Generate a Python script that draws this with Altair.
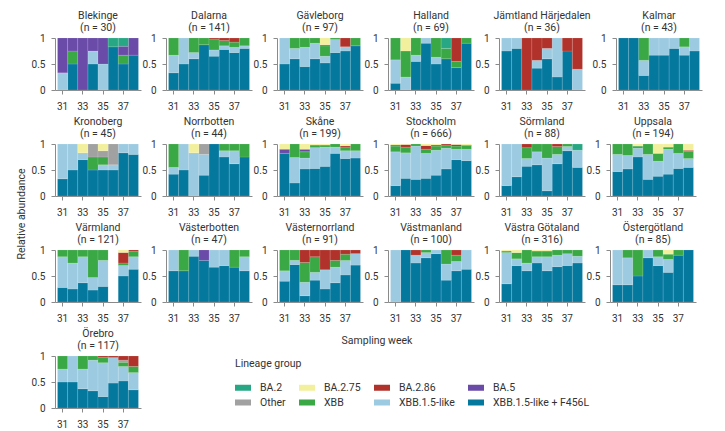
import altair as alt
import pandas as pd

WEEKS = [31, 32, 33, 34, 35, 36, 37, 38]
TICK_WEEKS = [31, 33, 35, 37]
LINEAGES = ["BA.2", "BA.2.75", "BA.2.86", "BA.5", "Other", "XBB",
            "XBB.1.5-like", "XBB.1.5-like + F456L"]
COLORS = ["#27a783", "#f3f09d", "#b1322a", "#6a4ba7", "#a1a1a1", "#3aa845",
          "#9ccbe1", "#05789e"]
KEY = {"T": "BA.2", "Y": "BA.2.75", "R": "BA.2.86", "P": "BA.5", "O": "Other",
       "G": "XBB", "L": "XBB.1.5-like", "D": "XBB.1.5-like + F456L"}

REGIONS = ["Blekinge", "Dalarna", "Gävleborg", "Halland", "Jämtland Härjedalen", "Kalmar",
           "Kronoberg", "Norrbotten", "Skåne", "Stockholm", "Sörmland", "Uppsala",
           "Värmland", "Västerbotten", "Västernorrland", "Västmanland", "Västra Götaland",
           "Östergötland", "Örebro"]
N_SEQ = [30, 141, 97, 69, 36, 43, 45, 44, 199, 666, 88, 194, 121, 47, 91, 100, 316, 85, 117]

# weekly shares (weeks 31..38) per lineage group
blekinge = {"D": [0, .5, 0, .5, 0, .83, .5, .67], "L": [.33, 0, 0, .25, .5, 0, 0, 0],
            "G": [0, .25, 0, 0, 0, 0, .17, 0], "P": [.67, .25, 1, .25, .5, 0, .17, .33],
            "T": [0, 0, 0, 0, 0, .17, .16, 0]}
dalarna = {"D": [.33, .5, .6, .87, .65, .78, .72, .8], "L": [.34, .5, .12, 0, .12, .07, .1, .05],
           "G": [.33, 0, .28, .13, .21, .1, .1, .15], "R": [0, 0, 0, 0, .02, .05, .08, 0]}
gavleborg = {"D": [.5, .6, .45, .6, .52, .72, .75, .85], "L": [.5, .2, .37, .3, .13, .25, .08, 0],
             "G": [0, .2, .18, .1, .2, .03, 0, .15], "R": [0, 0, 0, 0, .02, 0, .17, 0],
             "Y": [0, 0, 0, 0, .13, 0, 0, 0]}
halland = {"D": [.13, 0, .55, .9, .5, .6, .43, .9], "L": [.45, .25, .12, .1, .13, 0, 0, 0],
           "G": [.42, .5, .33, 0, .37, .2, .12, .1], "Y": [0, .25, 0, 0, 0, 0, 0, 0],
           "T": [0, 0, 0, 0, 0, .2, 0, 0], "R": [0, 0, 0, 0, 0, 0, .45, 0]}
jamtland = {"D": [.75, .8, 0, .42, .6, .25, .75, 0], "L": [.25, .2, 0, .15, .2, .75, 0, .4],
            "R": [0, 0, 1, .43, .2, 0, .25, .6]}
kalmar = {"D": [1, 1, .28, .67, .67, .8, .67, .75], "L": [0, 0, .29, .33, .33, .2, .16, .25],
          "G": [0, 0, .43, 0, 0, 0, .17, 0]}
kronoberg = {"D": [.33, .5, .7, .5, .5, .5, .83, .8], "L": [.67, .5, .13, 0, .1, .1, .17, .2],
             "G": [0, 0, 0, .25, .15, 0, 0, 0], "O": [0, 0, 0, .25, .12, .4, 0, 0],
             "Y": [0, 0, .17, 0, .13, 0, 0, 0]}
norrbotten = {"D": [.42, .5, 0, .4, 1, .75, .62, .75], "L": [.13, .5, .83, .4, 0, .12, .25, 0],
              "G": [.45, 0, 0, 0, 0, .13, .13, .25], "O": [0, 0, 0, .2, 0, 0, 0, 0],
              "Y": [0, 0, .17, 0, 0, 0, 0, 0]}
skane = {"D": [.82, .25, .52, .53, .57, .82, .72, .73], "L": [0, .49, .21, .4, .37, .12, .15, .14],
         "G": [0, .26, .12, .05, .04, .06, .07, .13], "P": [.08, 0, .05, 0, 0, 0, 0, 0],
         "Y": [.1, 0, .1, .02, .02, 0, .04, 0], "R": [0, 0, 0, 0, 0, 0, .02, 0]}
stockholm = {"D": [.2, .34, .32, .34, .4, .52, .7, .68], "L": [.65, .49, .64, .48, .48, .4, .2, .22],
             "G": [.11, .11, .04, .08, .08, .06, .06, .07], "P": [.02, 0, 0, 0, 0, 0, 0, 0],
             "R": [0, .05, 0, .07, .02, .02, .03, .01], "Y": [.02, .01, 0, .03, .02, 0, .01, .02]}
sormland = {"D": [.2, .37, .57, .6, .1, .62, .87, .55], "L": [.8, .63, .15, .25, .63, .18, .08, .33],
            "G": [0, 0, .21, .15, .27, .15, .05, 0], "R": [0, 0, .07, 0, 0, .05, 0, 0],
            "T": [0, 0, 0, 0, 0, 0, 0, .12]}
uppsala = {"D": [.47, .52, .75, .32, .38, .42, .53, .55], "L": [.33, .26, .17, .48, .29, .48, .29, .17],
           "G": [.2, .22, .04, .2, .15, .04, .18, .14], "R": [0, 0, 0, 0, 0, 0, 0, .02],
           "Y": [0, 0, .04, 0, .18, .06, 0, .12]}
varmland = {"D": [.28, .25, .37, .23, .3, None, .5, .63], "L": [.59, .5, .5, .24, .5, None, .2, .24],
            "G": [.13, .25, .13, .53, .2, None, .05, .1], "R": [0, 0, 0, 0, 0, None, .2, .03],
            "Y": [0, 0, 0, 0, 0, None, .05, 0]}
vasterbotten = {"D": [.6, .6, .88, .8, .67, .7, .67, .6], "L": [.4, 0, .12, 0, .33, .3, 0, .27],
                "G": [0, .4, 0, 0, 0, 0, .33, .13], "P": [0, 0, 0, .2, 0, 0, 0, 0]}
vasternorrland = {"D": [.4, .72, .12, .42, .25, .37, .52, .71], "L": [.2, .08, .26, .15, .37, .3, .28, .22],
                  "G": [.4, .2, .38, .3, 0, .13, .12, 0], "R": [0, 0, .24, .13, .38, .2, .08, .07]}
vastmanland = {"D": [0, 1, .75, .85, .93, .42, .6, .63], "L": [1, 0, .15, .1, .07, .31, .18, .37],
               "G": [0, 0, 0, .05, 0, .27, .12, 0], "R": [0, 0, .1, 0, 0, 0, .1, 0]}
vastra_gotaland = {"D": [.35, .7, .6, .75, .6, .68, .7, .75], "L": [.6, .13, .15, .12, .27, .22, .23, .13],
                   "G": [.03, .12, .25, .11, .11, .1, .07, .12], "Y": [.02, .05, 0, .02, .02, 0, 0, 0]}
ostergotland = {"D": [.33, .33, .5, .85, .7, .57, .9, 1], "L": [.67, .52, 0, .15, .17, .25, 0, 0],
                "G": [0, .15, .5, 0, .13, .1, .1, 0], "Y": [0, 0, 0, 0, 0, .08, 0, 0]}
orebro = {"D": [.5, .5, .37, .33, .22, .48, .52, .35], "L": [.25, .5, .38, .59, .65, .49, .28, .33],
          "G": [.25, 0, .25, .08, .1, 0, .08, .12], "O": [0, 0, 0, 0, 0, 0, .04, 0],
          "R": [0, 0, 0, 0, .03, .03, .08, .2]}

SHARES = [blekinge, dalarna, gavleborg, halland, jamtland, kalmar, kronoberg, norrbotten,
          skane, stockholm, sormland, uppsala, varmland, vasterbotten, vasternorrland,
          vastmanland, vastra_gotaland, ostergotland, orebro]

RANK = {lin: i for i, lin in enumerate(reversed(LINEAGES))}  # bottom of stack first

FONT = "Roboto, sans-serif"
TXT = "#333333"
AX = "#8a8a8a"

color_enc = alt.Color(
    "lineage:N",
    scale=alt.Scale(domain=LINEAGES, range=COLORS),
    legend=alt.Legend(
        title="Lineage group", orient="none", legendX=221, legendY=321, columns=4,
        direction="horizontal", gridAlign="each",
        symbolType="M-1,-0.375H1V0.375H-1Z", symbolSize=256, symbolStrokeWidth=0,
        symbolOpacity=1, columnPadding=13, rowPadding=1, labelOffset=9, titlePadding=10,
        labelFont=FONT, titleFont=FONT, labelFontSize=10.5, titleFontSize=10.5,
        titleFontWeight="normal", labelColor=TXT, titleColor=TXT,
    ),
)


def panel(name, n, shares):
    rows = []
    for k, vals in shares.items():
        for w, v in zip(WEEKS, vals):
            if v:
                rows.append({"week": w, "lineage": KEY[k], "share": v, "rank": RANK[KEY[k]]})
    df = pd.DataFrame(rows)
    return alt.Chart(df).mark_bar(stroke="white", strokeWidth=0.4, strokeOpacity=0.3).encode(
        x=alt.X("week:O", scale=alt.Scale(domain=WEEKS, paddingInner=0, paddingOuter=0.25),
                axis=alt.Axis(values=TICK_WEEKS, title=None, labelAngle=0, labelPadding=7)),
        y=alt.Y("share:Q", stack="zero",
                scale=alt.Scale(domain=[0, 1], nice=False, clamp=True),
                axis=alt.Axis(values=[0, 0.5, 1], format="~g", title=None, labelPadding=6)),
        color=color_enc,
        order=alt.Order("rank:Q", sort="ascending"),
    ).properties(
        width=86, height=52,
        title=alt.TitleParams(text=[name, f"(n = {n})"], fontSize=10.5, fontWeight="normal",
                              font=FONT, color=TXT, anchor="middle", offset=0, lineHeight=12),
    )


panels = [panel(r, n, s) for r, n, s in zip(REGIONS, N_SEQ, SHARES)]

annot = alt.Chart(pd.DataFrame({"t": ["Sampling week"]})).mark_text(
    font=FONT, fontSize=10.5, color=TXT, align="center", baseline="middle"
).encode(text="t:N", x=alt.value(235), y=alt.value(-15)).properties(width=400, height=52)

S = 1
rows = [alt.hconcat(*panels[i:i + 6], spacing=S) for i in (0, 6, 12)]
rows.append(alt.hconcat(panels[18], annot, spacing=S))
grid = alt.vconcat(*rows, spacing=5)

ylab = alt.Chart(pd.DataFrame({"t": ["Relative abundance"]})).mark_text(
    font=FONT, fontSize=10.5, color=TXT, angle=270, align="center", baseline="middle"
).encode(text="t:N", x=alt.value(8), y=alt.value(176)).properties(width=16, height=52)

chart = alt.hconcat(ylab, grid, spacing=1).properties(
    padding={"left": 6, "top": 2, "right": 5, "bottom": 5}
).configure_view(stroke=None).configure_axis(
    labelFont=FONT, labelFontSize=10, labelColor=TXT, domainColor=AX, tickColor=AX,
    tickSize=4, domainWidth=1, tickWidth=1, grid=False,
)

chart.save("out.html", embed_options={"renderer": "svg", "actions": False})
